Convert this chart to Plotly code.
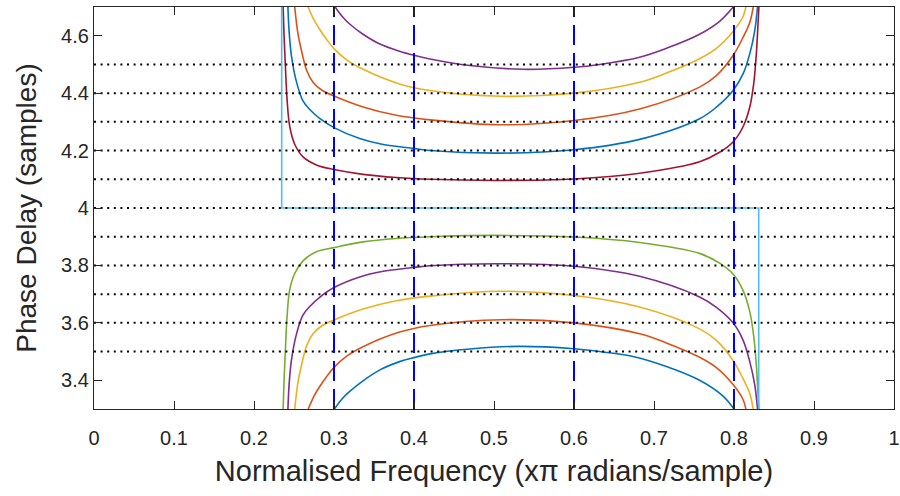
import plotly.graph_objects as go

# ---- data ----
x_ticks = [0, 0.1, 0.2, 0.3, 0.4, 0.5, 0.6, 0.7, 0.8, 0.9, 1]
x_tick_labels = ["0", "0.1", "0.2", "0.3", "0.4", "0.5", "0.6", "0.7", "0.8", "0.9", "1"]
y_ticks = [3.4, 3.6, 3.8, 4.0, 4.2, 4.4, 4.6]
y_tick_labels = ["3.4", "3.6", "3.8", "4", "4.2", "4.4", "4.6"]

grid_levels = [3.5, 3.6, 3.7, 3.8, 3.9, 4.0, 4.1, 4.2, 4.3, 4.4, 4.5]
band_freqs = [0.3, 0.4, 0.6, 0.8]

# lower family (delays 3.5 .. 3.9)
x_35 = [0.3005, 0.3100, 0.3200, 0.3363, 0.3580, 0.3820, 0.4000, 0.4200, 0.4700, 0.5300, 0.6000, 0.6320, 0.6738, 0.7155, 0.7570, 0.7863, 0.8000]
y_35 = [3.300, 3.335, 3.362, 3.398, 3.437, 3.465, 3.479, 3.492, 3.509, 3.518, 3.510, 3.500, 3.483, 3.448, 3.400, 3.345, 3.300]

x_36 = [0.2678, 0.2750, 0.2830, 0.2900, 0.3000, 0.3163, 0.3363, 0.3820, 0.4200, 0.5100, 0.6000, 0.6820, 0.7155, 0.7570, 0.7780, 0.7988, 0.8113, 0.8148]
y_36 = [3.300, 3.345, 3.382, 3.410, 3.445, 3.485, 3.517, 3.568, 3.591, 3.611, 3.600, 3.562, 3.530, 3.480, 3.444, 3.385, 3.333, 3.300]

x_37 = [0.2509, 0.2550, 0.2600, 0.2660, 0.2740, 0.2850, 0.3000, 0.3363, 0.3780, 0.4200, 0.5070, 0.6000, 0.6820, 0.7570, 0.7780, 0.7988, 0.8113, 0.8196, 0.8240]
y_37 = [3.300, 3.394, 3.460, 3.522, 3.563, 3.590, 3.610, 3.648, 3.677, 3.693, 3.710, 3.695, 3.655, 3.579, 3.539, 3.469, 3.406, 3.355, 3.300]

x_38 = [0.2424, 0.2440, 0.2468, 0.2530, 0.2610, 0.2700, 0.2821, 0.3000, 0.3321, 0.3600, 0.4000, 0.4200, 0.5070, 0.6000, 0.6820, 0.7570, 0.7780, 0.7988, 0.8113, 0.8196, 0.8259, 0.8294]
y_38 = [3.300, 3.390, 3.470, 3.560, 3.626, 3.658, 3.689, 3.723, 3.760, 3.779, 3.793, 3.799, 3.806, 3.797, 3.762, 3.690, 3.654, 3.600, 3.540, 3.466, 3.385, 3.300]

x_39 = [0.2364, 0.2375, 0.2393, 0.2413, 0.2446, 0.2509, 0.2613, 0.2780, 0.3000, 0.3363, 0.3780, 0.4200, 0.5000, 0.6000, 0.6820, 0.7570, 0.7820, 0.7988, 0.8113, 0.8196, 0.8246, 0.8280, 0.8300, 0.8311]
y_39 = [3.300, 3.394, 3.510, 3.620, 3.715, 3.772, 3.816, 3.848, 3.862, 3.882, 3.894, 3.900, 3.9045, 3.899, 3.880, 3.842, 3.808, 3.770, 3.713, 3.640, 3.555, 3.450, 3.355, 3.300]

# integer delay 4 (step outline)
x_40 = [0.2346, 0.2346, 0.8309, 0.8309]
y_40 = [4.70, 4.00, 4.00, 3.30]

# upper family (delays 4.1 .. 4.5)
x_41 = [0.2364, 0.2375, 0.2393, 0.2413, 0.2446, 0.2509, 0.2613, 0.2780, 0.3000, 0.3363, 0.3780, 0.4200, 0.5070, 0.6000, 0.6820, 0.7570, 0.7820, 0.7988, 0.8113, 0.8196, 0.8246, 0.8280, 0.8300, 0.8311]
y_41 = [4.700, 4.606, 4.490, 4.380, 4.285, 4.222, 4.178, 4.150, 4.134, 4.117, 4.106, 4.100, 4.096, 4.101, 4.121, 4.161, 4.194, 4.230, 4.283, 4.350, 4.432, 4.540, 4.640, 4.700]

x_42 = [0.2424, 0.2440, 0.2468, 0.2530, 0.2610, 0.2700, 0.2821, 0.3000, 0.3321, 0.3600, 0.4000, 0.4200, 0.5070, 0.6000, 0.6820, 0.7570, 0.7780, 0.7988, 0.8113, 0.8196, 0.8259, 0.8294]
y_42 = [4.700, 4.610, 4.530, 4.440, 4.374, 4.342, 4.312, 4.280, 4.242, 4.222, 4.207, 4.200, 4.191, 4.203, 4.239, 4.311, 4.351, 4.409, 4.467, 4.536, 4.617, 4.700]

x_43 = [0.2509, 0.2550, 0.2600, 0.2660, 0.2740, 0.2850, 0.3000, 0.3363, 0.3780, 0.4200, 0.5070, 0.6000, 0.6820, 0.7570, 0.7780, 0.7988, 0.8113, 0.8196, 0.8240]
y_43 = [4.700, 4.606, 4.540, 4.478, 4.437, 4.410, 4.390, 4.352, 4.323, 4.307, 4.290, 4.305, 4.345, 4.421, 4.461, 4.531, 4.594, 4.645, 4.700]

x_44 = [0.2675, 0.2750, 0.2830, 0.2900, 0.3000, 0.3163, 0.3363, 0.3820, 0.4200, 0.5100, 0.6000, 0.6820, 0.7155, 0.7570, 0.7780, 0.7988, 0.8113, 0.8148]
y_44 = [4.700, 4.655, 4.618, 4.590, 4.555, 4.515, 4.483, 4.432, 4.409, 4.389, 4.400, 4.438, 4.470, 4.520, 4.556, 4.615, 4.667, 4.700]

x_45 = [0.3015, 0.3100, 0.3200, 0.3363, 0.3580, 0.3820, 0.4000, 0.4200, 0.4700, 0.5360, 0.6000, 0.6320, 0.6820, 0.7155, 0.7570, 0.7820, 0.7990]
y_45 = [4.700, 4.668, 4.640, 4.605, 4.570, 4.546, 4.532, 4.519, 4.496, 4.483, 4.490, 4.500, 4.525, 4.556, 4.605, 4.650, 4.700]

series = [
    (x_35, y_35, "#0072BD"),
    (x_36, y_36, "#D95319"),
    (x_37, y_37, "#EDB120"),
    (x_38, y_38, "#7E2F8E"),
    (x_39, y_39, "#77AC30"),
    (x_41, y_41, "#A2142F"),
    (x_42, y_42, "#0072BD"),
    (x_43, y_43, "#D95319"),
    (x_44, y_44, "#EDB120"),
    (x_45, y_45, "#7E2F8E"),
]

FONT = "Liberation Sans, Arial, Helvetica, sans-serif"
TXT = "#262626"

fig = go.Figure()
for xs, ys, col in series:
    fig.add_trace(go.Scatter(x=xs, y=ys, mode="lines",
                             line=dict(color=col, width=1.6, shape="spline", smoothing=1.0),
                             showlegend=False, hoverinfo="skip"))

fig.add_trace(go.Scatter(x=x_40, y=y_40, mode="lines",
                         line=dict(color="#4DBEEE", width=1.6),
                         showlegend=False, hoverinfo="skip"))

for g in grid_levels:
    fig.add_trace(go.Scatter(x=[0, 1], y=[g, g], mode="lines",
                             line=dict(color="black", width=2, dash="2px,4.6px"),
                             showlegend=False, hoverinfo="skip"))

for f in band_freqs:
    fig.add_trace(go.Scatter(x=[f, f], y=[3.3, 4.7], mode="lines",
                             line=dict(color="#0000FF", width=2, dash="20px,8px"),
                             showlegend=False, hoverinfo="skip"))

axis_common = dict(
    showgrid=False, zeroline=False, showline=True, linecolor=TXT, linewidth=1.2,
    mirror="ticks", ticks="inside", ticklen=8, tickwidth=1.2, tickcolor=TXT,
    automargin=False,
    tickfont=dict(family=FONT, size=20, color=TXT),
)

fig.update_layout(
    width=900, height=496,
    margin=dict(l=94, r=6, t=7, b=87),
    paper_bgcolor="white", plot_bgcolor="white",
    xaxis=dict(range=[0, 1], tickvals=x_ticks, ticktext=x_tick_labels,
               ticklabelstandoff=11,
               title=dict(text="Normalised Frequency (x\u03c0 radians/sample)",
                          font=dict(family=FONT, size=29, color=TXT),
                          standoff=12),
               **axis_common),
    yaxis=dict(range=[3.3, 4.7], tickvals=y_ticks, ticktext=y_tick_labels,
               title=dict(text="Phase Delay (samples)",
                          font=dict(family=FONT, size=28, color=TXT),
                          standoff=16),
               **axis_common),
)

fig.write_html("out.html")
